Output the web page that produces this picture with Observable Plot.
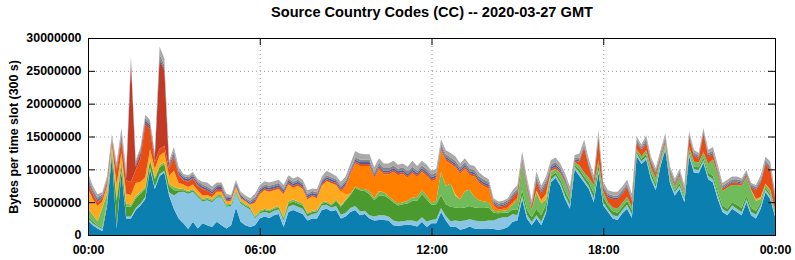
<!DOCTYPE html>
<html>
<head>
<meta charset="utf-8">
<script src="https://cdn.jsdelivr.net/npm/d3@7"></script>
<script src="https://cdn.jsdelivr.net/npm/@observablehq/plot@0.6"></script>
<style>
  html, body { margin: 0; padding: 0; background: #fff; }
  #chart svg { display: block; }
</style>
</head>
<body>
<div id="chart"></div>
<script>
// ---- text ----
const chartTitle = "Source Country Codes (CC) -- 2020-03-27 GMT";
const yAxisLabel = "Bytes per time slot (300 s)";

// ---- axes ----
const slotStepMinutes = 10;           // one sample every 10 minutes, 00:00 .. 24:00
const xTickMinutes = [0, 360, 720, 1080, 1440];
const xTickLabels = ["00:00", "06:00", "12:00", "18:00", "00:00"];
const yTickValues = [0, 5000000, 10000000, 15000000, 20000000, 25000000, 30000000];

// ---- series (stack order bottom -> top), values in millions of bytes per slot ----
const layerNames = ["blue", "lightBlue", "darkGreen", "lightGreen", "amber", "orange", "redOrange", "darkRed", "minor", "darkGray", "lightGray"];
const layerColors = ["#0b7fb0", "#8bc5e4", "#4b9a2e", "#70bb5a", "#ffaa1e", "#ff8000", "#e84e14", "#c23a24", "#4d5ea6", "#858585", "#a9a9a9"];

const blue = [
  2.2,1.5,1.0,0.6,4.5,12,1.0,9.5,2.5,2.5,3.8,4.5,
  5.5,10,7.0,9,9.5,6.0,4.0,2.5,1.8,0.9,2.0,1.0,
  1.8,1.5,1.2,2.0,1.5,1.0,1.5,4.2,2.0,1.5,1.2,1.5,
  2.5,2.8,2.6,3.0,3.2,1.2,3.5,3.8,3.5,3.2,2.2,2.5,
  2.5,3.8,4.0,3.6,3.8,2.5,2.8,3.5,3.8,3.0,3.2,2.5,
  2.2,2.3,2.3,2.2,1.5,1.4,1.5,1.6,1.5,1.3,2.0,1.2,
  1.8,1.8,3.5,2.2,1.2,1.3,0.8,1.0,1.3,1.0,0.9,1.0,
  1.0,0.9,0.8,0.9,1.2,2.0,2.2,5.5,2.5,1.5,2.5,1.5,
  3.3,8.0,8.7,7.5,5.5,4.0,10.0,9.0,8.0,7.0,5.0,9.5,
  4.5,3.5,2.5,2.3,3.3,4.0,2.6,12.0,10.8,11.5,8.5,6.8,
  10.5,13.0,7.8,6.0,7.0,5.0,12.0,9.5,9.4,11.0,8.5,8.0,
  5.5,3.5,3.0,4.0,3.5,3.0,5.0,3.0,2.5,4.0,6.5,5.5,
  2.8
];
const lightBlue = [
  0.3,0.3,0.3,0.3,0.3,0.3,0.2,0.3,0.3,0.3,0.3,0.3,
  0.3,0.3,0.3,0.3,0.3,0.5,2.0,4.0,4.8,5.4,4.6,4.8,
  3.3,3.8,3.8,3.7,4.2,3.3,2.9,2.2,2.8,2.8,2.7,1.0,
  0.8,0.7,0.7,0.7,0.7,1.0,0.8,0.8,0.8,0.8,0.6,0.7,
  0.8,0.7,0.6,0.6,0.6,0.6,0.6,0.6,0.6,0.6,0.5,0.5,
  0.6,0.7,0.7,0.6,0.7,0.6,0.6,0.6,0.7,0.7,0.7,0.8,
  0.5,0.6,0.6,0.7,0.9,0.9,1.3,1.2,1.1,1.2,1.2,1.1,
  1.2,1.3,1.7,1.8,1.5,1.2,0.8,0.5,0.6,0.5,0.5,0.5,
  0.4,0.4,0.4,0.4,0.5,0.6,0.4,0.5,0.4,0.4,0.6,0.4,
  0.5,0.4,0.5,0.5,0.5,0.6,0.6,0.4,0.4,0.4,0.5,0.5,
  0.4,0.4,0.5,0.5,0.5,0.5,0.4,0.5,0.5,0.4,0.5,0.5,
  0.6,0.5,0.5,0.5,0.5,0.5,0.5,0.5,0.6,0.5,0.4,0.4,
  0.4
];
const darkGreen = [
  0.3,0.3,0.2,0.2,0.5,0.4,4.0,0.8,1.5,1.5,1.5,1.5,
  1.2,1.0,1.2,1.0,1.0,1.0,0.8,0.3,0.2,0.2,0.2,0.2,
  0.2,0.2,0.2,0.2,0.2,0.2,0.2,0.2,0.2,0.2,0.2,0.2,
  0.2,0.3,0.3,0.3,0.3,0.3,0.5,0.5,0.5,0.5,0.4,0.3,
  0.3,0.3,0.3,0.3,0.8,1.2,1.8,2.0,2.8,3.2,3.0,3.2,
  2.5,3.0,3.0,2.8,2.8,2.5,2.6,2.6,3.0,3.2,3.5,3.4,
  2.3,2.3,2.0,1.8,2.2,2.0,2.0,2.0,2.0,2.0,2.0,2.0,
  2.0,1.2,0.8,0.7,0.7,0.7,0.8,0.8,0.8,0.7,1.0,1.0,
  1.0,0.5,0.4,0.5,0.7,0.6,0.3,0.5,0.5,0.6,0.8,0.7,
  0.8,0.6,0.6,0.6,0.5,0.6,0.6,0.3,0.4,0.4,0.5,0.5,
  0.3,0.3,0.3,0.3,0.4,0.3,0.4,0.4,0.4,0.4,0.5,0.5,
  0.5,0.5,0.5,0.5,0.6,0.6,0.5,0.6,0.6,0.4,0.3,0.3,
  0.3
];
const lightGreen = [
  1.2,1.0,0.6,3.0,1.0,0.5,0.5,0.7,0.5,0.3,0.3,0.3,
  0.3,0.3,0.3,0.3,0.3,0.3,0.5,0.3,0.2,0.2,0.2,0.2,
  0.2,0.2,0.2,0.2,0.2,0.2,0.2,0.2,0.2,0.2,0.2,0.2,
  0.2,0.2,0.2,0.2,0.2,0.2,0.3,0.3,0.3,0.3,0.2,0.2,
  0.2,0.2,0.2,0.2,0.2,0.2,0.2,0.2,0.2,0.2,0.3,0.5,
  0.3,0.6,0.5,0.3,0.3,0.3,0.3,0.4,0.5,0.6,0.6,0.6,
  0.3,0.5,3.5,2.8,3.5,1.8,1.3,2.5,2.5,1.6,1.2,1.0,
  0.8,0.3,0.3,0.3,0.4,0.8,1.5,4.0,3.0,1.2,2.5,1.8,
  0.8,0.6,0.6,1.0,1.2,0.8,0.4,0.6,0.6,0.7,1.2,0.8,
  0.8,0.5,0.6,0.6,0.6,0.6,0.5,0.4,0.4,0.6,0.8,0.9,
  0.3,0.3,0.6,0.6,1.0,0.6,0.6,0.8,0.7,0.8,1.3,2.5,
  2.6,2.2,3.2,2.6,3.0,3.4,2.8,2.7,1.5,0.6,0.5,0.6,
  0.4
];
const amber = [
  3.0,2.4,2.3,1.0,1.2,0.6,2.0,1.2,1.5,1.5,2.0,1.5,
  1.5,1.5,1.3,1.5,1.5,1.2,2.5,0.8,0.7,0.6,0.7,0.6,
  0.5,0.4,0.4,0.5,0.5,0.4,0.4,0.5,0.4,0.4,0.3,2.0,
  2.5,2.8,2.8,2.6,2.6,3.5,2.6,1.8,2.4,2.2,2.0,2.2,
  1.8,2.5,3.1,3.2,2.2,2.1,0.8,0,0,0,0,0,
  0,0.1,0,0,0,0,0,0,0,0,0,0,
  0,0,0,0,0,0.2,0,0,0,0,0,0,
  0,0,0,0,0,0,0,0,0,0,0.3,0.5,
  0.8,0.2,0,0,0,0,0,0,0,0,0,0,
  0,0,0,0,0,0,0,0,0,0,0,0,
  0,0,0,0,0,0,0,0,0,0,0,0,
  0,0,0,0,0,0,0,0.1,0.3,0.3,0.1,0.1,
  0
];
const orange = [
  0,0,0,0,0,0,0,0,0,0,0,0,
  0,0,0,0,0,0,0,0,0,0,0,0,
  0,0,0,0,0,0,0,0,0,0,0,0,
  0,0,0,0,0,0,0,0,0,0,0,0,
  0,0,0,0,0,0,1.2,2.9,3.5,3.5,3.5,3.8,
  3.0,3.3,2.7,3.3,4.3,4.3,4.3,3.5,3.7,3.0,2.8,3.0,
  3.3,3.3,3.3,3.8,3.0,4.1,3.9,3.4,2.2,3.1,2.6,2.3,
  2.1,0.8,0.3,0.3,0.4,0.3,0.3,0,0,0,0,0,
  0,0,0,0,0,0,0,0,0,0,0,0,
  0,0,0,0,0,0,0,0,0,0,0,0,
  0,0,0,0,0,0,0,0,0,0,0,0,
  0,0,0,0,0,0,0,0,0,0,0,0,
  0
];
const redOrange = [
  1.0,0.8,0.6,0.5,0.5,0.4,2.0,2.0,2.0,2.0,2.0,3.5,
  8.0,3.0,1.0,1.0,1.0,1.0,2.0,1.2,0.6,0.8,0.9,0.7,
  1.0,0.7,0.5,0.4,0.4,0.2,0.2,0.2,0.2,0.1,0.1,0.3,
  0.3,0.3,0.3,0.3,0.3,0.3,0.3,0.3,0.3,0.3,0.3,0.2,
  0.3,0.3,0.3,0.3,0.3,0.3,0.3,0.3,0.3,0.3,0.3,0.3,
  0.3,0.3,0.3,0.3,0.3,0.3,0.3,0.3,0.3,0.3,0.3,0.3,
  0.3,0.3,0.3,0.3,0.3,0.3,0.3,0.3,0.3,0.3,0.3,0.3,
  0.3,0.3,0.4,0.4,0.6,0.8,1.0,0.3,0.5,0.4,1.5,1.0,
  1.3,0.3,0.3,0.3,0.3,0.3,0.2,0.6,3.8,1.6,0.5,3.3,
  0.6,0.8,1.3,1.5,1.4,1.5,0.9,1.0,0.9,1.2,0.7,0.6,
  0.4,0.4,0.3,0.3,0.3,0.3,1.5,0.9,0.6,2.8,1.2,0.8,
  0.4,0.3,0.3,0.4,0.4,0.3,0.3,0.3,1.3,2.2,3.0,3.1,
  1.8
];
const darkRed = [
  0.2,0.1,0.1,0.1,0.1,0.1,0.3,0.3,0.3,18,0.5,0.8,
  0.3,0.3,0.5,13.5,11.5,0.3,0.3,0.2,0.1,0.1,0.1,0.1,
  0.1,0,0,0,0,0,0,0,0,0,0,0,
  0,0,0,0,0,0,0,0,0,0,0,0,
  0,0,0,0,0,0,0,0,0,0,0,0,
  0,0,0,0,0,0,0,0,0,0,0,0,
  0,0,0,0,0,0,0,0,0,0,0,0,
  0,0,0,0,0,0,0,0,0,0,0,0,
  0,0,0,0,0,0,0,0,0,0,0,0,
  0,0,0,0,0,0,0,0,0,0,0,0,
  0,0,0,0,0,0,0,0,0,0,0,0,
  0,0,0,0,0,0,0,0,0,0,0,0,
  0
];
const minor = [
  0.3,0.3,0.3,0.2,0.2,0.2,0.2,0.3,0.3,0.3,0.3,0.3,
  0.3,0.3,0.3,0.3,0.3,0.3,0.3,0.3,0.3,0.3,0.3,0.3,
  0.3,0.3,0.3,0.3,0.3,0.3,0.3,0.3,0.3,0.2,0.2,0.3,
  0.3,0.3,0.3,0.3,0.3,0.3,0.3,0.3,0.3,0.3,0.3,0.3,
  0.3,0.3,0.3,0.3,0.3,0.3,0.3,0.3,0.3,0.3,0.3,0.3,
  0.3,0.3,0.3,0.3,0.3,0.3,0.3,0.3,0.3,0.3,0.3,0.3,
  0.3,0.3,0.3,0.3,0.3,0.3,0.3,0.3,0.3,0.3,0.3,0.3,
  0.3,0.2,0.2,0.2,0.2,0.2,0.2,0.3,0.3,0.2,0.3,0.3,
  0.3,0.3,0.3,0.3,0.3,0.2,0.2,0.2,0.2,0.2,0.2,0.2,
  0.2,0.2,0.2,0.2,0.2,0.2,0.2,0.2,0.2,0.2,0.2,0.2,
  0.2,0.2,0.2,0.2,0.2,0.2,0.2,0.2,0.2,0.2,0.2,0.2,
  0.2,0.2,0.2,0.2,0.2,0.2,0.2,0.2,0.2,0.2,0.2,0.2,
  0.2
];
const darkGray = [
  0.4,0.3,0.3,0.3,0.3,0.3,0.3,0.4,0.4,0.4,0.4,0.4,
  0.4,0.4,0.3,0.6,0.5,0.4,0.4,0.3,0.3,0.3,0.3,0.3,
  0.3,0.3,0.3,0.3,0.3,0.3,0.2,0.3,0.2,0.2,0.3,0.3,
  0.3,0.3,0.3,0.3,0.3,0.3,0.3,0.3,0.3,0.3,0.3,0.3,
  0.3,0.3,0.3,0.3,0.3,0.3,0.3,0.3,0.3,0.4,0.4,0.4,
  0.4,0.4,0.4,0.4,0.4,0.4,0.4,0.4,0.4,0.4,0.4,0.4,
  0.4,0.4,0.4,0.4,0.4,0.4,0.4,0.4,0.4,0.4,0.4,0.4,
  0.4,0.3,0.3,0.3,0.3,0.3,0.3,0.4,0.4,0.3,0.4,0.4,
  0.4,0.4,0.4,0.3,0.3,0.3,0.3,0.3,0.3,0.3,0.3,0.4,
  0.3,0.3,0.3,0.3,0.3,0.3,0.3,0.3,0.3,0.4,0.3,0.3,
  0.3,0.4,0.3,0.3,0.3,0.3,0.3,0.3,0.3,0.3,0.3,0.3,
  0.3,0.3,0.3,0.3,0.3,0.3,0.3,0.3,0.3,0.3,0.3,0.3,
  0.3
];
const lightGray = [
  0.6,0.5,0.5,0.3,0.4,0.5,0.5,0.8,0.7,0.4,0.3,0.3,
  0.5,0.4,0.3,1.2,1.0,0.3,0.6,0.4,0.3,0.3,0.3,0.3,
  0.4,0.6,0.5,0.4,0.4,0.4,0.2,0.3,0.3,0.4,0.4,0.5,
  0.5,0.5,0.5,0.5,0.5,0.5,0.5,0.5,0.5,0.5,0.5,0.4,
  0.5,0.5,0.7,0.6,0.5,0.6,0.6,0.8,1.0,0.9,0.8,0.8,
  0.7,0.7,0.7,0.7,0.7,0.6,0.6,0.7,0.9,0.7,0.7,0.7,
  0.6,0.6,0.7,0.6,0.7,0.7,0.6,0.6,0.6,0.6,0.6,0.5,
  0.4,0.3,0.3,0.3,0.3,0.5,0.5,0.9,0.7,0.5,0.7,0.5,
  0.6,0.7,0.7,0.6,0.6,0.6,0.4,0.7,0.7,0.7,0.5,0.7,
  0.4,0.5,0.6,0.6,0.6,0.6,0.6,0.4,0.4,0.5,0.4,0.4,
  0.5,0.5,0.4,0.4,0.4,0.4,0.4,0.4,0.4,0.4,0.5,0.6,
  0.6,0.4,0.4,0.4,0.4,0.3,0.3,0.2,0.3,0.6,0.6,0.7,
  0.4
];

// ---- build tidy table for Plot ----
const layerValues = [blue, lightBlue, darkGreen, lightGreen, amber, orange, redOrange, darkRed, minor, darkGray, lightGray];
const rows = [];
layerValues.forEach((vals, k) => {
  vals.forEach((v, i) => rows.push({ minute: i * slotStepMinutes, layer: layerNames[k], bytes: v * 1e6 }));
});

const plotW = 795, plotH = 260;
const mL = 88, mR = 20, mT = 38, mB = 25;
const innerW = plotW - mL - mR, innerH = plotH - mT - mB;
const tickLen = 7;

const chart = Plot.plot({
  width: plotW,
  height: plotH,
  marginLeft: mL,
  marginRight: mR,
  marginTop: mT,
  marginBottom: mB,
  style: {
    fontFamily: "'Liberation Sans', Arial, Helvetica, sans-serif",
    fontSize: "12.4px",
    fontWeight: "bold",
    background: "#ffffff",
    color: "#000000",
    overflow: "visible"
  },
  x: { domain: [0, 1440], axis: null, label: null },
  y: { domain: [0, 30000000], axis: null, label: null },
  color: { domain: layerNames, range: layerColors },
  marks: [
    Plot.gridY(yTickValues, { stroke: "#9a9a9a", strokeOpacity: 1, strokeWidth: 1, strokeDasharray: "1,3" }),
    Plot.gridX(xTickMinutes, { stroke: "#9a9a9a", strokeOpacity: 1, strokeWidth: 1, strokeDasharray: "1,3" }),
    Plot.areaY(rows, { x: "minute", y: "bytes", z: "layer", fill: "layer", curve: "linear" }),
    Plot.frame({ stroke: "#000", strokeWidth: 1 }),
    Plot.tickY(yTickValues, { y: d => d, stroke: "#000", insetRight: innerW - tickLen }),
    Plot.tickY(yTickValues, { y: d => d, stroke: "#000", insetLeft: innerW - tickLen }),
    Plot.tickX(xTickMinutes, { x: d => d, stroke: "#000", insetTop: innerH - tickLen }),
    Plot.tickX(xTickMinutes, { x: d => d, stroke: "#000", insetBottom: innerH - tickLen }),
    Plot.axisY(yTickValues, { tickSize: 0, tickPadding: 7, label: null, tickFormat: d => String(d) }),
    Plot.axisX(xTickMinutes, { tickSize: 0, tickPadding: 10, label: null, tickFormat: d => xTickLabels[xTickMinutes.indexOf(d)] }),
    Plot.text([chartTitle], { frameAnchor: "top", dy: -21.5, lineAnchor: "bottom", textAnchor: "middle", fontSize: 14.6, fontWeight: "bold" }),
    Plot.text([yAxisLabel], { frameAnchor: "left", dx: -74, rotate: -90, textAnchor: "middle", lineAnchor: "middle", fontSize: 12.4, fontWeight: "bold" })
  ]
});

document.getElementById("chart").appendChild(chart);
</script>
</body>
</html>
